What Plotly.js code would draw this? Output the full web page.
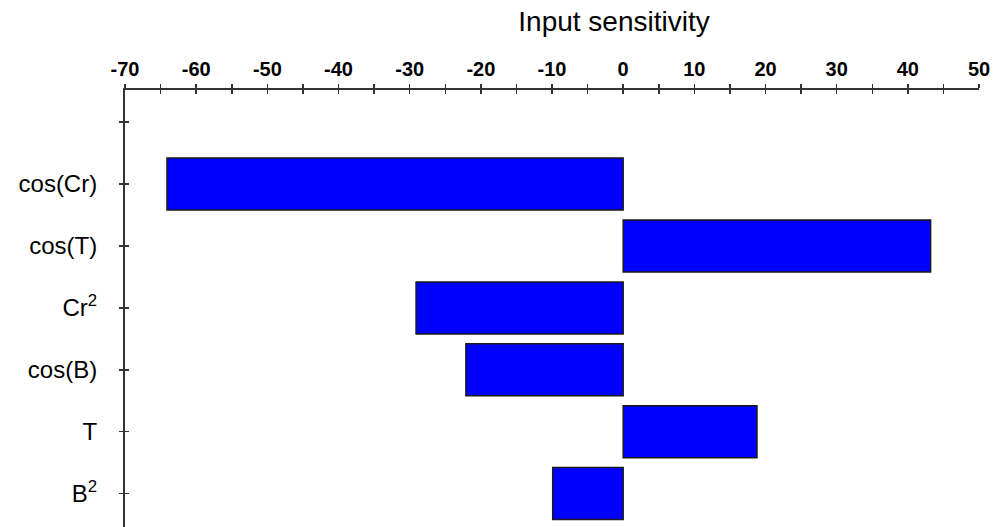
<!DOCTYPE html>
<html>
<head>
<meta charset="utf-8">
<script src="https://cdn.plot.ly/plotly-3.0.1.min.js"></script>
<style>html,body{margin:0;padding:0;background:#fff;}#chart{width:997px;height:527px;}</style>
</head>
<body>
<div id="chart"></div>
<script>
const categories = ["cos(Cr)", "cos(T)", "Cr<sup>2</sup>", "cos(B)", "T", "B<sup>2</sup>"];
const sensitivity = [-64.1, 43.2, -29.1, -22.1, 18.8, -9.9];
const xTickValues = [-70, -60, -50, -40, -30, -20, -10, 0, 10, 20, 30, 40, 50];
const xTickLabels = ["-70", "-60", "-50", "-40", "-30", "-20", "-10", "0", "10", "20", "30", "40", "50"];
const chartTitle = "Input sensitivity";

const positions = categories.map((c, i) => i + 1);
const yTickVals = [0].concat(positions);
const yTickText = [""].concat(categories);

const axisColor = "#333333";
const font = "Liberation Sans, Arial, sans-serif";

const traces = [
  {
    type: "bar",
    orientation: "h",
    x: sensitivity,
    y: positions,
    width: 0.84,
    marker: { color: "#0000FF", line: { color: "#1a1a1a", width: 1.5 } },
    hoverinfo: "x",
    showlegend: false
  },
  {
    type: "scatter",
    mode: "markers",
    x: [0],
    y: [0],
    xaxis: "x2",
    yaxis: "y2",
    marker: { opacity: 0 },
    hoverinfo: "skip",
    showlegend: false
  }
];

const layout = {
  width: 997,
  height: 527,
  margin: { l: 125, r: 18, t: 90, b: 0 },
  paper_bgcolor: "#ffffff",
  plot_bgcolor: "#ffffff",
  font: { family: font, color: "#000000" },
  title: {
    text: chartTitle,
    font: { family: font, size: 28, color: "#000000" },
    xref: "paper",
    x: (614 - 125) / (997 - 125 - 18),
    xanchor: "center",
    yref: "container",
    y: 1 - 21 / 527,
    yanchor: "middle"
  },
  xaxis: {
    side: "top",
    range: [-70, 50],
    tickvals: xTickValues,
    ticktext: xTickLabels,
    ticks: "outside",
    ticklen: 4,
    tickwidth: 1.5,
    tickcolor: axisColor,
    minor: { dtick: 5, tick0: 0, ticks: "outside", ticklen: 4, tickwidth: 1.5, tickcolor: axisColor },
    showline: true,
    linecolor: axisColor,
    linewidth: 2,
    showgrid: false,
    zeroline: false,
    tickfont: { family: font, size: 20, color: "#000000", weight: "bold" }
  },
  xaxis2: {
    overlaying: "x",
    side: "top",
    range: [-70, 50],
    dtick: 5,
    tick0: 0,
    ticks: "inside",
    ticklen: 4,
    tickwidth: 1.5,
    tickcolor: axisColor,
    showticklabels: false,
    showline: false,
    showgrid: false,
    zeroline: false
  },
  yaxis: {
    range: [6.54, -0.52],
    tickvals: yTickVals,
    ticktext: yTickText,
    ticks: "outside",
    ticklen: 4,
    tickwidth: 1.5,
    tickcolor: axisColor,
    showline: true,
    linecolor: axisColor,
    linewidth: 2,
    showgrid: false,
    zeroline: false,
    ticklabelstandoff: 17,
    tickfont: { family: font, size: 24, color: "#000000" }
  },
  yaxis2: {
    overlaying: "y",
    range: [6.54, -0.52],
    tickvals: yTickVals,
    ticks: "inside",
    ticklen: 4,
    tickwidth: 1.5,
    tickcolor: axisColor,
    showticklabels: false,
    showline: false,
    showgrid: false,
    zeroline: false
  }
};

Plotly.newPlot("chart", traces, layout, { displayModeBar: false, staticPlot: true });
</script>
</body>
</html>
